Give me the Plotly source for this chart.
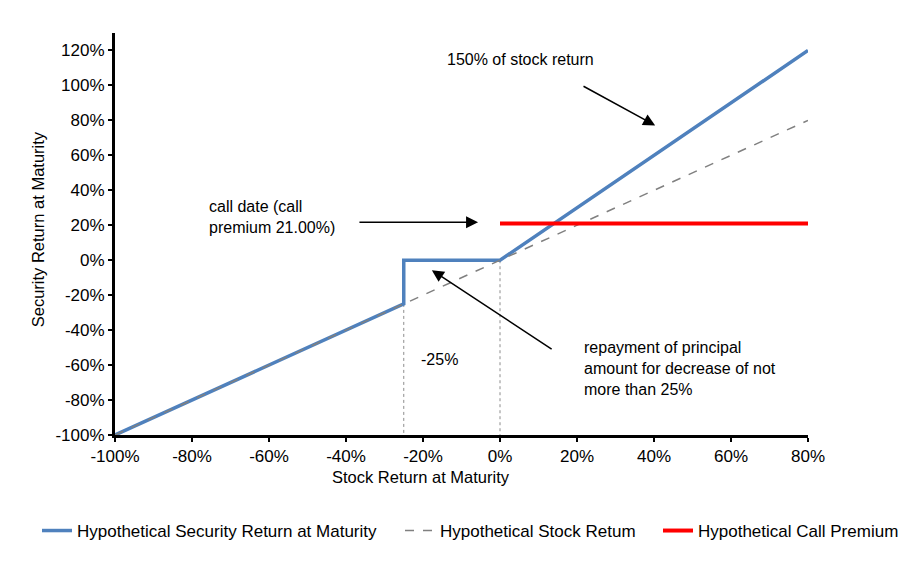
import plotly.graph_objects as go

# chart data (percent)
security_x = [-100, -25, -25, 0, 80]
security_y = [-100, -25, 0, 0, 120]
stock_x = [-100, 80]
stock_y = [-100, 80]
premium_x = [0, 80]
premium_y = [21, 21]
x_ticks = [-100, -80, -60, -40, -20, 0, 20, 40, 60, 80]
y_ticks = [-100, -80, -60, -40, -20, 0, 20, 40, 60, 80, 100, 120]

font = 'Liberation Sans, Arial, sans-serif'
blue = '#4F81BD'

fig = go.Figure()

# dotted guide lines down to the x axis
fig.add_trace(go.Scatter(x=[-25, -25], y=[-25, -100], mode='lines',
                         line=dict(color='#8c8c8c', width=1, dash='dot'),
                         showlegend=False, hoverinfo='skip'))
fig.add_trace(go.Scatter(x=[0, 0], y=[0, -100], mode='lines',
                         line=dict(color='#8c8c8c', width=1, dash='dot'),
                         showlegend=False, hoverinfo='skip'))

fig.add_trace(go.Scatter(x=security_x, y=security_y, mode='lines',
                         name='Hypothetical Security Return at Maturity',
                         line=dict(color=blue, width=3.5), legend='legend'))
fig.add_trace(go.Scatter(x=stock_x, y=stock_y, mode='lines',
                         name='Hypothetical Stock Retum',
                         line=dict(color='#808080', width=1.5, dash='dash'),
                         legend='legend2'))
fig.add_trace(go.Scatter(x=premium_x, y=premium_y, mode='lines',
                         name='Hypothetical Call Premium',
                         line=dict(color='#FF0000', width=4), legend='legend3'))

# arrows
arrows = [((21.3, 100), (40.3, 77.1)),
          ((-36.9, 21.7), (-5.7, 21.7)),
          ((13.8, -51.4), (-17.7, -5.7))]
for (tx, ty), (hx, hy) in arrows:
    fig.add_annotation(x=hx, y=hy, ax=tx, ay=ty, xref='x', yref='y',
                       axref='x', ayref='y', text='', showarrow=True,
                       arrowhead=2, arrowsize=1.6, arrowwidth=1.5,
                       arrowcolor='black')

texts = [(-14.3, 114.9, '150% of stock return'),
         (-76.1, 24.6, 'call date (call<br>premium 21.00%)'),
         (-21.0, -56.6, '-25%'),
         (21.3, -61.7, 'repayment of principal<br>amount for decrease of not<br>more than 25%')]
for x, y, t in texts:
    fig.add_annotation(x=x, y=y, xref='x', yref='y', text=t, showarrow=False,
                       xanchor='left', yanchor='middle', align='left',
                       font=dict(family=font, size=16, color='black'))

# axis titles
fig.add_annotation(x=0.442, y=-0.1045, xref='paper', yref='paper',
                   text='Stock Return at Maturity', showarrow=False,
                   xanchor='center', yanchor='middle',
                   font=dict(family=font, size=16.5, color='black'))
fig.add_annotation(x=-0.111, y=0.512, xref='paper', yref='paper',
                   text='Security Return at Maturity', showarrow=False,
                   textangle=-90, xanchor='center', yanchor='middle',
                   font=dict(family=font, size=16.5, color='black'))

leg = dict(orientation='h', xref='container', yref='container',
           xanchor='left', y=0.076, yanchor='middle',
           font=dict(family=font, size=17), bgcolor='rgba(0,0,0,0)')

fig.update_layout(
    width=916, height=566,
    margin=dict(l=107, r=116, t=25, b=139),
    plot_bgcolor='white', paper_bgcolor='white',
    font=dict(family=font, size=17, color='black'),
    showlegend=True,
    legend=dict(leg, x=29 / 916),
    legend2=dict(leg, x=392 / 916),
    legend3=dict(leg, x=650 / 916),
    xaxis=dict(range=[-100, 80], tickvals=x_ticks,
               ticktext=[f'{v}%' for v in x_ticks],
               showgrid=False, zeroline=False, showline=True,
               linecolor='black', linewidth=3, ticks='outside', ticklen=4,
               tickwidth=2, tickcolor='black', automargin=False),
    yaxis=dict(range=[-100, 130], tickvals=y_ticks,
               ticktext=[f'{v}%' for v in y_ticks],
               showgrid=False, zeroline=False, showline=True,
               linecolor='black', linewidth=3, ticks='outside', ticklen=4,
               tickwidth=2, tickcolor='black', automargin=False),
)

fig.write_html("out.html")
